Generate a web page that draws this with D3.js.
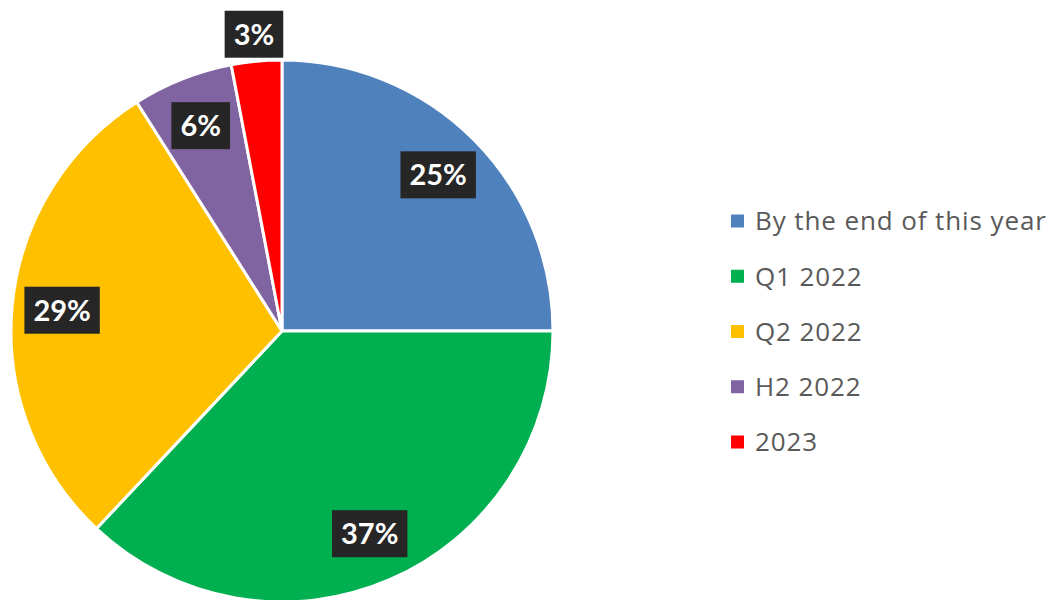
<!DOCTYPE html>
<html>
<head>
<meta charset="utf-8">
<title>pie</title>
<script src="https://cdn.jsdelivr.net/npm/d3@7"></script>
<style>
body { margin: 0; background: #fff; }
.leg text { font-family: "Open Sans", Lato, sans-serif; fill: #595959; letter-spacing: 0.9px; }
.lbl text { font-family: Lato, "Open Sans", sans-serif; font-weight: bold; fill: #fff; }
</style>
</head>
<body>
<script>
var categories = ["By the end of this year", "Q1 2022", "Q2 2022", "H2 2022", "2023"];
var values = [25, 37, 29, 6, 3];
var colors = ["#4F81BD", "#00B050", "#FFC000", "#8064A2", "#FF0000"];

var w = 1049, h = 600;
var cx = 282, cy = 331, r = 271;

var svg = d3.select("body").append("svg").attr("width", w).attr("height", h);
var g = svg.append("g").attr("transform", "translate(" + cx + "," + cy + ")");

var pie = d3.pie().sort(null).value(function(d){ return d; });
var arcs = pie(values);
var arc = d3.arc().innerRadius(0).outerRadius(r);

g.selectAll("path").data(arcs).enter().append("path")
	.attr("d", arc)
	.attr("fill", function(d,i){ return colors[i]; })
	.attr("stroke", "#fff")
	.attr("stroke-width", 3)
	.attr("stroke-linejoin", "round");

// labels: inside near the rim, small slices pushed outside
var inner = d3.arc().innerRadius(r * 0.815).outerRadius(r * 0.815);
var outer = d3.arc().innerRadius(r * 1.1).outerRadius(r * 1.1);
var total = d3.sum(values);

var lbl = g.selectAll(".lbl").data(arcs).enter().append("g").attr("class", "lbl")
	.attr("transform", function(d){
		var p = (d.value / total < 0.05 ? outer : inner).centroid(d);
		return "translate(" + p[0] + "," + p[1] + ")";
	});
lbl.append("rect").attr("fill", "#262626");
lbl.append("text")
	.attr("text-anchor", "middle")
	.attr("dy", "0.36em")
	.style("font-size", "29px")
	.text(function(d){ return Math.round(d.value / total * 100) + "%"; });
lbl.each(function(){
	var t = d3.select(this).select("text").node().getComputedTextLength();
	d3.select(this).select("rect")
		.attr("x", -t/2 - 9).attr("y", -23.5)
		.attr("width", t + 18).attr("height", 47);
});

// legend
var ly = d3.scalePoint().domain(categories).range([221, 442]);
var leg = svg.append("g").attr("class", "leg");
var items = leg.selectAll("g").data(categories).enter().append("g")
	.attr("transform", function(d){ return "translate(731," + ly(d) + ")"; });
items.append("rect")
	.attr("x", 0).attr("y", -6.5).attr("width", 13).attr("height", 13)
	.attr("fill", function(d,i){ return colors[i]; });
items.append("text")
	.attr("x", 24).attr("dy", "0.36em")
	.style("font-size", "26px")
	.text(function(d){ return d; });
</script>
</body>
</html>
